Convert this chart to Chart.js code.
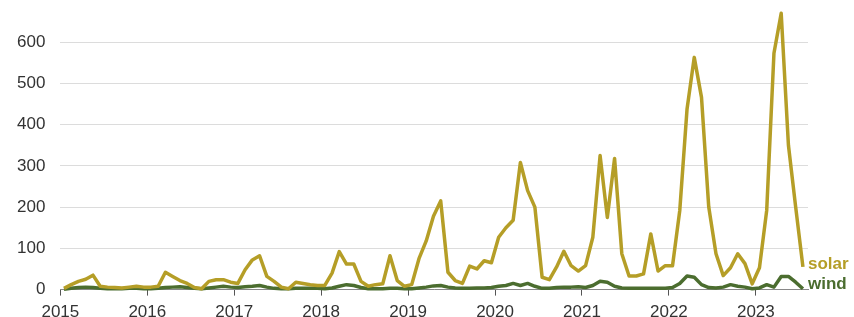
<!DOCTYPE html>
<html>
<head>
<meta charset="utf-8">
<script src="https://cdn.jsdelivr.net/npm/chart.js@4"></script>
<style>
  body { margin: 0; background: #fff; }
  #wrap { width: 854px; height: 317px; }
</style>
</head>
<body>
<div id="wrap"><canvas id="chart"></canvas></div>
<script>
// monthly values, Jan 2015 .. Jul 2023
var startYear = 2015;
var solar = [
    3, 12, 20, 25, 35, 8, 6, 5, 4, 6, 8, 6,            // 2015
    6, 8, 42, 32, 22, 15, 5, 2, 20, 24, 24, 18,        // 2016
    15, 48, 72, 82, 32, 20, 6, 2, 18, 15, 12, 10,      // 2017
    10, 40, 92, 62, 62, 20, 8, 12, 14, 82, 22, 8,      // 2018
    12, 75, 118, 178, 215, 42, 22, 15, 57, 50, 70, 65, // 2019
    127, 150, 168, 308, 240, 200, 30, 24, 55, 93, 58, 45, // 2020
    58, 127, 325, 175, 318, 87, 33, 33, 38, 135, 45, 58,  // 2021
    58, 192, 437, 563, 466, 200, 87, 34, 53, 87, 63, 14,  // 2022
    53, 192, 573, 670, 350, 200, 55                    // 2023
];
var wind = [
    1, 3, 5, 6, 5, 3, 2, 2, 2, 3, 3, 2,
    2, 3, 5, 6, 7, 5, 3, 2, 4, 6, 8, 6,
    5, 7, 8, 10, 6, 3, 2, 2, 3, 3, 3, 3,
    2, 4, 8, 12, 10, 5, 2, 2, 2, 3, 3, 2,
    2, 4, 6, 9, 10, 6, 4, 3, 3, 4, 4, 5,
    8, 10, 15, 10, 15, 8, 3, 3, 5, 6, 6, 7,
    5, 10, 20, 18, 8, 4, 3, 3, 3, 3, 3, 3,
    5, 15, 33, 30, 12, 5, 4, 6, 12, 8, 6, 2,
    4, 12, 6, 32, 32, 18, 2
];
var yTicks = [0, 100, 200, 300, 400, 500, 600];
var seriesNames = ['solar', 'wind'];

var solarColor = '#b59e27';
var windColor = '#4b6d2f';

function toPoints(values) {
    return values.map(function (v, i) {
        return { x: startYear + (i + 0.5) / 12, y: v };
    });
}

// draws the series name at the end of each line
var endLabels = {
    id: 'endLabels',
    afterDatasetsDraw: function (chart) {
        var ctx = chart.ctx;
        ctx.save();
        ctx.font = 'bold 17px "Liberation Sans", Arial, sans-serif';
        ctx.textBaseline = 'middle';
        ctx.textAlign = 'left';
        chart.data.datasets.forEach(function (ds, i) {
            var meta = chart.getDatasetMeta(i);
            var last = meta.data[meta.data.length - 1];
            ctx.fillStyle = ds.borderColor;
            var dy = i === 0 ? -3 : -4;
            ctx.fillText(ds.label, last.x + 5, last.y + dy);
        });
        ctx.restore();
    }
};

var ctx = document.getElementById('chart').getContext('2d');
var chart = new Chart(ctx, {
    type: 'line',
    data: {
        datasets: [
            {
                label: seriesNames[0],
                data: toPoints(solar),
                borderColor: solarColor,
                borderWidth: 3.5,
                pointRadius: 0,
                tension: 0,
                borderJoinStyle: 'round',
                clip: false
            },
            {
                label: seriesNames[1],
                data: toPoints(wind),
                borderColor: windColor,
                borderWidth: 3.5,
                pointRadius: 0,
                tension: 0,
                borderJoinStyle: 'round',
                clip: false
            }
        ]
    },
    options: {
        responsive: true,
        maintainAspectRatio: false,
        animation: false,
        layout: {
            padding: { left: 17, right: 46, top: 0, bottom: -13 }
        },
        scales: {
            x: {
                type: 'linear',
                min: 2015,
                max: 2023.6,
                grid: {
                    drawOnChartArea: false,
                    drawTicks: true,
                    tickLength: 6,
                    color: '#555'
                },
                border: { display: true, color: '#888' },
                ticks: {
                    stepSize: 1,
                    includeBounds: false,
                    maxRotation: 0,
                    padding: 7,
                    color: '#333',
                    font: { family: '"Liberation Sans", Arial, sans-serif', size: 17 },
                    callback: function (v) { return String(v); }
                }
            },
            y: {
                min: 0,
                max: 700,
                afterBuildTicks: function (axis) {
                    axis.ticks = yTicks.map(function (v) { return { value: v }; });
                },
                grid: {
                    drawTicks: true,
                    tickLength: 15,
                    tickColor: 'rgba(0,0,0,0)',
                    color: '#dcdcdc',
                    lineWidth: 1
                },
                border: { display: false },
                ticks: {
                    padding: 0,
                    color: '#333',
                    font: { family: '"Liberation Sans", Arial, sans-serif', size: 17, lineHeight: 0.1 },
                    callback: function (v) { return String(v); }
                }
            }
        },
        plugins: {
            legend: { display: false },
            tooltip: { enabled: false }
        }
    },
    plugins: [endLabels]
});
</script>
</body>
</html>
